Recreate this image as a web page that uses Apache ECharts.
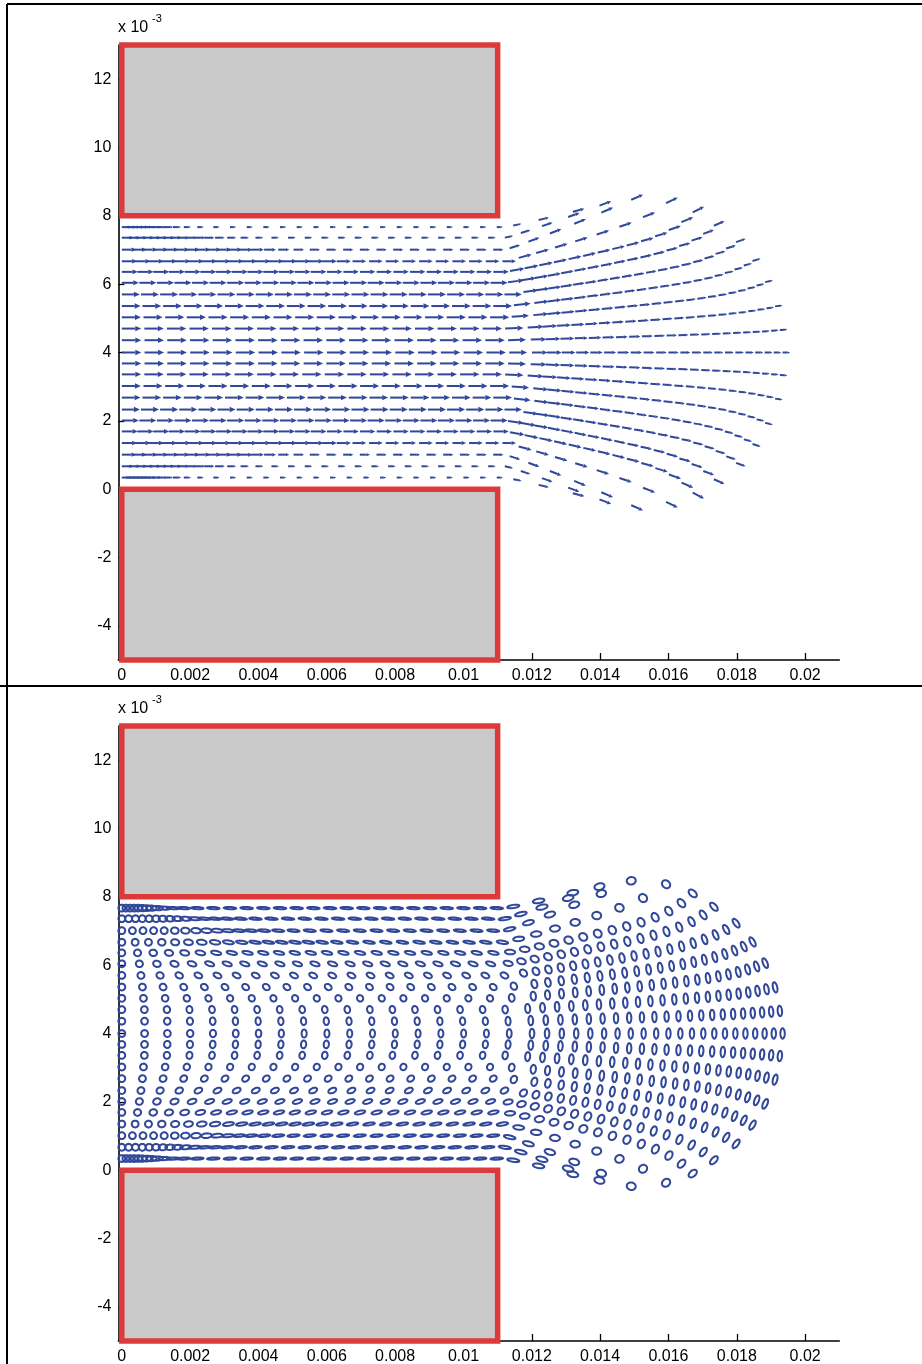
<!DOCTYPE html>
<html>
<head>
<meta charset="utf-8">
<script src="https://cdn.jsdelivr.net/npm/echarts@6/dist/echarts.min.js"></script>
<style>
  html, body { margin: 0; padding: 0; background: #fff; }
  #chart { width: 922px; height: 1364px; }
</style>
</head>
<body>
<div id="chart"></div>
<script>
// axis ticks (x in mm, shown in metres; y in units of 1e-3 m)
const xTickValues = [0, 2, 4, 6, 8, 10, 12, 14, 16, 18, 20];
const xTickLabels = ['0', '0.002', '0.004', '0.006', '0.008', '0.01', '0.012', '0.014', '0.016', '0.018', '0.02'];
const yTickValues = [-4, -2, 0, 2, 4, 6, 8, 10, 12];
const yTickLabels = ['-4', '-2', '0', '2', '4', '6', '8', '10', '12'];

// channel walls [x0, y0, x1, y1]
const walls = [[0, 8, 11, 13], [0, -5, 11, 0]];

// one entry per streamline row, bottom to top
const rowY       = [0.34, 0.67, 1.01, 1.35, 1.69, 2.01, 2.33, 2.68, 3.02, 3.36, 3.68, 4.00, 4.36, 4.70, 5.03, 5.36, 5.70, 6.04, 6.36, 6.67, 7.01, 7.36, 7.67];
const rowStepIn  = [0.12, 0.20, 0.31, 0.39, 0.46, 0.514, 0.56, 0.604, 0.634, 0.66, 0.665, 0.667, 0.665, 0.66, 0.634, 0.604, 0.56, 0.514, 0.46, 0.39, 0.31, 0.20, 0.12];
const rowStepOut = [0.488, 0.488, 0.488, 0.488, 0.488, 0.514, 0.56, 0.604, 0.634, 0.66, 0.665, 0.667, 0.665, 0.66, 0.634, 0.604, 0.56, 0.514, 0.488, 0.488, 0.488, 0.488, 0.488];
const rowRampFrom = [0.4, 0.8, 2.5, 5.0, 4.0, 0, 0, 0, 0, 0, 0, 0, 0, 0, 0, 0, 0, 0, 4.0, 5.0, 2.5, 0.8, 0.4];
const rowRampTo   = [2.5, 4.5, 5.5, 7.0, 7.0, 0, 0, 0, 0, 0, 0, 0, 0, 0, 0, 0, 0, 0, 7.0, 7.0, 5.5, 4.5, 2.5];
const rowVelIn  = [0.30, 0.35, 0.42, 0.45, 0.47, 0.50, 0.53, 0.55, 0.56, 0.57, 0.57, 0.57, 0.57, 0.57, 0.56, 0.55, 0.53, 0.50, 0.47, 0.45, 0.42, 0.35, 0.30];
const rowVelOut = [0.18, 0.22, 0.30, 0.40, 0.45, 0.50, 0.53, 0.55, 0.56, 0.57, 0.57, 0.57, 0.57, 0.57, 0.56, 0.55, 0.53, 0.50, 0.45, 0.40, 0.30, 0.22, 0.18];
const rowEndX = [13.2, 13.98, 14.91, 15.93, 16.71, 17.33, 17.98, 18.46, 18.83, 19.12, 19.26, 19.34, 19.26, 19.12, 18.83, 18.46, 17.98, 17.33, 16.71, 15.93, 14.91, 13.98, 13.2];
const rowEndY = [-0.12, -0.30, -0.47, -0.37, -0.10, 0.29, 0.77, 1.32, 1.94, 2.65, 3.34, 4.00, 4.66, 5.35, 6.06, 6.68, 7.23, 7.71, 8.10, 8.37, 8.47, 8.30, 8.12];
const rowCurl = [0, 0, 0, 0.15, 0.3, 0.3, 0.3, 0.3, 0.3, 0.25, 0.2, 0, 0.2, 0.25, 0.3, 0.3, 0.3, 0.3, 0.3, 0.15, 0, 0, 0];
const rowDelay = [0.3, 0.3, 0.3, 0.3, 0.5, 0.8, 1.1, 1.1, 1.1, 1.1, 1.1, 1.1, 1.1, 1.1, 1.1, 1.1, 1.1, 0.8, 0.5, 0.3, 0.3, 0.3, 0.3];
const rowJetCount = [3, 4, 6, 8, 13, 16, 18, 19, 20, 21, 21, 21, 21, 21, 20, 19, 18, 16, 13, 8, 6, 4, 3];

// ellipse shape reached inside the channel (pixels, tilt in degrees) and its decay length in the jet (mm)
const ellMajor = [6.2, 6.2, 6.0, 5.8, 5.3, 4.8, 4.2, 3.7, 3.3, 3.6, 3.9, 4.0, 3.9, 3.6, 3.3, 3.7, 4.2, 4.8, 5.3, 5.8, 6.0, 6.2, 6.2];
const ellMinor = [1.1, 1.1, 1.2, 1.3, 1.7, 2.0, 2.4, 2.8, 3.0, 2.8, 2.6, 2.5, 2.6, 2.8, 3.0, 2.8, 2.4, 2.0, 1.7, 1.3, 1.2, 1.1, 1.1];
const ellTilt  = [3, 4, 5, 8, 12, 18, 25, 35, 60, 80, 85, 90, 95, 100, -60, -35, -25, -18, -12, -8, -5, -4, -3];
const ellFrom  = [0.3, 0.6, 1.0, 0.5, 0, 0, 0, 0, 0, 0, 0, 0, 0, 0, 0, 0, 0, 0, 0, 0.5, 1.0, 0.6, 0.3];
const ellTo    = [1.5, 2.5, 3.5, 4.0, 3.5, 3, 3, 3, 3, 3, 4, 6, 4, 3, 3, 3, 3, 3, 3.5, 4.0, 3.5, 2.5, 1.5];
const ellRelax = [8, 7, 6, 4.5, 3.5, 2.8, 2.2, 1.7, 1.3, 1.1, 1.0, 1.0, 1.0, 1.1, 1.3, 1.7, 2.2, 2.8, 3.5, 4.5, 6, 7, 8];

const EXIT_X = 11, JET_START = 11.2, ARROW_RELAX = 1.2;
const CIRCLE_R = 3.4, JET_ALONG = 2.2, JET_NORMAL = 5.2;
const BLUE = '#30479a';

function smooth(e0, e1, x) {
  if (e1 <= e0) return x >= e0 ? 1 : 0;
  const t = Math.min(1, Math.max(0, (x - e0) / (e1 - e0)));
  return t * t * (3 - 2 * t);
}
function ellMat(a, b, phi) {
  const c = Math.cos(phi), s = Math.sin(phi);
  return [a * a * c * c + b * b * s * s, (a * a - b * b) * c * s, a * a * s * s + b * b * c * c];
}

function buildRow(j) {
  const y0 = rowY[j], xEnd = rowEndX[j], yEnd = rowEndY[j], c = rowCurl[j];
  const span = xEnd - JET_START;
  const shape = u => (1 - c) * Math.pow(u, 1.1) + c * Math.pow(u, 8);
  const yAt = x => x <= JET_START ? y0 : y0 + (yEnd - y0) * shape(Math.min(1, (x - JET_START) / span));
  // flow direction for the arrows: the end curl of the marker rows is damped
  const flowAngle = x => {
    if (x <= JET_START) return 0;
    const u = Math.min(1, (x - JET_START) / span);
    const d = (1 - c) * 1.1 * Math.pow(u, 0.1) + 0.35 * c * 8 * Math.pow(u, 7);
    return Math.atan((yEnd - y0) / span * d);
  };
  const line = [];
  let S = 0;
  const N = 3000;
  for (let i = 0; i <= N; i++) {
    const x = xEnd * i / N, y = yAt(x);
    if (i) S += Math.hypot(x - line[i - 1][0], y - line[i - 1][1]);
    line.push([x, y, S]);
  }
  const at = s => {
    let lo = 0, hi = N;
    while (hi - lo > 1) { const m = (lo + hi) >> 1; if (line[m][2] < s) lo = m; else hi = m; }
    const A = line[lo], B = line[hi];
    const t = B[2] > A[2] ? (s - A[2]) / (B[2] - A[2]) : 0;
    return { x: A[0] + (B[0] - A[0]) * t, y: A[1] + (B[1] - A[1]) * t, th: Math.atan2(B[1] - A[1], B[0] - A[0]) };
  };
  const stepAt = x => rowStepIn[j] + (rowStepOut[j] - rowStepIn[j]) * smooth(rowRampFrom[j], rowRampTo[j], x);
  const sList = [0];
  let s = 0, x = 0;
  for (;;) {
    const next = s + stepAt(x);
    if (at(next).x >= EXIT_X + rowDelay[j]) break;
    s = next; x = at(s).x; sList.push(s);
  }
  const n = rowJetCount[j];
  const L = S - s, avg = L / n, base = 0.66 * rowStepOut[j];
  let a;
  if (avg < base) a = Math.min(base, 1.35 * avg);
  else a = Math.min(rowStepOut[j], avg);
  const b = 2 * avg - a;
  for (let i = 0; i < n; i++) {
    s += n > 1 ? a + (b - a) * i / (n - 1) : L;
    sList.push(Math.min(s, S));
  }
  const sExit = EXIT_X;
  const out = [];
  sList.forEach((sk, k) => {
    const p = at(sk);
    const step = k < sList.length - 1 ? sList[k + 1] - sk : sk - sList[k - 1];
    const past = Math.max(0, sk - sExit);
    const wa = 1 - Math.exp(-past / ARROW_RELAX);
    const wj = 1 - Math.exp(-past / ellRelax[j]);
    const wv = smooth(rowRampFrom[j], rowRampTo[j], Math.min(p.x, EXIT_X));
    const vel = rowVelIn[j] + (rowVelOut[j] - rowVelIn[j]) * wv;
    const arrowLen = (1 - wa) * vel + wa * Math.min(0.85 * step, 0.38);
    // ellipse in streamline frame
    const wc = smooth(ellFrom[j], ellTo[j], p.x);
    const Mt = ellMat(ellMajor[j], ellMinor[j], ellTilt[j] * Math.PI / 180);
    const r2 = CIRCLE_R * CIRCLE_R;
    const Mc = [(1 - wc) * r2 + wc * Mt[0], wc * Mt[1], (1 - wc) * r2 + wc * Mt[2]];
    const Mj = [JET_ALONG * JET_ALONG, 0, JET_NORMAL * JET_NORMAL];
    const Ms = [(1 - wj) * Mc[0] + wj * Mj[0], (1 - wj) * Mc[1], (1 - wj) * Mc[2] + wj * Mj[2]];
    const cs = Math.cos(p.th), sn = Math.sin(p.th);
    const P = Ms[0], Q = Ms[1], R = Ms[2];
    const Mw = [cs * cs * P - 2 * cs * sn * Q + sn * sn * R,
                cs * sn * (P - R) + (cs * cs - sn * sn) * Q,
                sn * sn * P + 2 * cs * sn * Q + cs * cs * R];
    const mean = (Mw[0] + Mw[2]) / 2, dev = Math.sqrt(((Mw[0] - Mw[2]) / 2) ** 2 + Mw[1] ** 2);
    const ea = Math.sqrt(mean + dev), eb = Math.sqrt(Math.max(0.05, mean - dev));
    const ephi = 0.5 * Math.atan2(2 * Mw[1], Mw[0] - Mw[2]);
    out.push([p.x, p.y, flowAngle(p.x), arrowLen, ea, eb, ephi]);
  });
  return out;
}

const markers = [];
rowY.forEach((_, j) => markers.push(...buildRow(j)));

function renderWall(params, api) {
  const a = api.coord([api.value(0), api.value(3)]);
  const b = api.coord([api.value(2), api.value(1)]);
  return {
    type: 'rect',
    shape: { x: a[0], y: a[1], width: b[0] - a[0], height: b[1] - a[1] },
    style: { fill: '#c9c9c9', stroke: '#dd3b3b', lineWidth: 5.5 }
  };
}
function renderArrow(params, api) {
  const x = api.value(0), y = api.value(1), th = api.value(2), L = api.value(3);
  const p0 = api.coord([x, y]);
  const p1 = api.coord([x + L * Math.cos(th), y + L * Math.sin(th)]);
  const dx = p1[0] - p0[0], dy = p1[1] - p0[1];
  const len = Math.hypot(dx, dy) || 1;
  const ux = dx / len, uy = dy / len;
  const h = Math.min(6, Math.max(2.5, 0.33 * len)), w = h * 0.45;
  const bx = p1[0] - ux * h, by = p1[1] - uy * h;
  return {
    type: 'group',
    children: [
      { type: 'line', shape: { x1: p0[0], y1: p0[1], x2: bx, y2: by }, style: { stroke: BLUE, lineWidth: 2 } },
      { type: 'polygon', shape: { points: [[p1[0], p1[1]], [bx - uy * w, by + ux * w], [bx + uy * w, by - ux * w]] }, style: { fill: BLUE } }
    ]
  };
}
function renderEllipse(params, api) {
  const c = api.coord([api.value(0), api.value(1)]);
  const a = api.value(4), b = api.value(5), phi = api.value(6);
  const cs = Math.cos(phi), sn = Math.sin(phi);
  const pts = [];
  for (let i = 0; i < 28; i++) {
    const t = 2 * Math.PI * i / 28;
    const ex = a * Math.cos(t), ey = b * Math.sin(t);
    pts.push([c[0] + ex * cs - ey * sn, c[1] - (ex * sn + ey * cs)]);
  }
  return { type: 'polygon', shape: { points: pts }, style: { fill: 'none', stroke: BLUE, lineWidth: 2 } };
}

const FONT = 'Liberation Sans, Arial, sans-serif';
function xAxisFor(i) {
  return {
    type: 'value', gridIndex: i, min: -0.1, max: 21,
    axisLine: { show: true, onZero: false, lineStyle: { color: '#000', width: 1.6 } },
    axisTick: { show: true, inside: true, length: 7, customValues: xTickValues, lineStyle: { color: '#000', width: 1.3 } },
    axisLabel: { customValues: xTickValues, formatter: v => xTickLabels[xTickValues.indexOf(Math.round(v))], color: '#000', fontSize: 16, fontFamily: FONT, margin: 8 },
    splitLine: { show: false }
  };
}
function yAxisFor(i) {
  return {
    type: 'value', gridIndex: i, min: -5, max: 13,
    axisLine: { show: true, onZero: false, lineStyle: { color: '#000', width: 1.6 } },
    axisTick: { show: true, inside: true, length: 6, customValues: yTickValues, lineStyle: { color: '#000', width: 1.3 } },
    axisLabel: { customValues: yTickValues, formatter: v => yTickLabels[yTickValues.indexOf(Math.round(v))], color: '#000', fontSize: 16, fontFamily: FONT, margin: 7 },
    splitLine: { show: false }
  };
}

const chart = echarts.init(document.getElementById('chart'));
chart.setOption({
  animation: false,
  backgroundColor: '#fff',
  grid: [
    { left: 118.4, right: 82.7, top: 45, height: 615, containLabel: false, outerBoundsMode: 'none' },
    { left: 118.4, right: 82.7, top: 726, height: 615, containLabel: false, outerBoundsMode: 'none' }
  ],
  xAxis: [xAxisFor(0), xAxisFor(1)],
  yAxis: [yAxisFor(0), yAxisFor(1)],
  graphic: [
    { type: 'line', shape: { x1: 7, y1: 4, x2: 922, y2: 4 }, style: { stroke: '#000', lineWidth: 2 } },
    { type: 'line', shape: { x1: 7, y1: 4, x2: 7, y2: 1364 }, style: { stroke: '#000', lineWidth: 2 } },
    { type: 'line', shape: { x1: 0, y1: 686, x2: 922, y2: 686 }, style: { stroke: '#000', lineWidth: 2 } },
    { type: 'text', left: 118, top: 20, style: { text: 'x 10', font: '16px ' + FONT, fill: '#000' } },
    { type: 'text', left: 152, top: 13, style: { text: '-3', font: '11px ' + FONT, fill: '#000' } },
    { type: 'text', left: 118, top: 701, style: { text: 'x 10', font: '16px ' + FONT, fill: '#000' } },
    { type: 'text', left: 152, top: 694, style: { text: '-3', font: '11px ' + FONT, fill: '#000' } }
  ],
  series: [
    { type: 'custom', xAxisIndex: 0, yAxisIndex: 0, data: walls, renderItem: renderWall, clip: false, z: 5, silent: true },
    { type: 'custom', xAxisIndex: 0, yAxisIndex: 0, data: markers, renderItem: renderArrow, clip: false, z: 6, silent: true },
    { type: 'custom', xAxisIndex: 1, yAxisIndex: 1, data: walls, renderItem: renderWall, clip: false, z: 5, silent: true },
    { type: 'custom', xAxisIndex: 1, yAxisIndex: 1, data: markers, renderItem: renderEllipse, clip: false, z: 6, silent: true }
  ]
});
</script>
</body>
</html>
